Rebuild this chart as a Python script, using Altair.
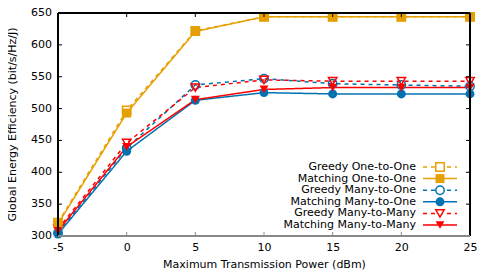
import altair as alt
import pandas as pd

power = [-5, 0, 5, 10, 15, 20, 25]
series_names = [
    "Greedy One-to-One",
    "Matching One-to-One",
    "Greedy Many-to-One",
    "Matching Many-to-One",
    "Greedy  Many-to-Many",
    "Matching Many-to-Many",
]
greedy_o2o = [321, 497, 622, 644, 644, 644, 644]
matching_o2o = [319, 493, 621, 644, 644, 644, 644]
greedy_m2o = [305, 438, 537, 547, 539, 537, 535]
matching_m2o = [303, 433, 513, 525, 523, 523, 523]
greedy_m2m = [311, 446, 533, 545, 543, 543, 543]
matching_m2m = [308, 440, 514, 530, 533, 533, 533]
values = [greedy_o2o, matching_o2o, greedy_m2o, matching_m2o, greedy_m2m, matching_m2m]

colors = ["#E69F00", "#E69F00", "#0072B2", "#0072B2", "#FF0000", "#FF0000"]
shapes = ["square", "square", "circle", "circle", "triangle-down", "triangle-down"]
dashes = [[4, 4], [1, 0], [4, 4], [1, 0], [4, 4], [1, 0]]
filled_flags = [False, True, False, True, False, True]

x_ticks = [-5, 0, 5, 10, 15, 20, 25]
y_ticks = [300, 350, 400, 450, 500, 550, 600, 650]
y_tick_labels = ["300", "350", "400", "450", "500", "550", "600", "650"]
x_title = "Maximum Transmission Power (dBm)"
y_title = "Global Energy Efficiency (bit/s/Hz/J)"

rows = []
for name, vals, f in zip(series_names, values, filled_flags):
    for p, v in zip(power, vals):
        rows.append({"series": name, "power": p, "eff": v, "filled": f})
df = pd.DataFrame(rows)
leg = pd.DataFrame({"series": series_names, "filled": filled_flags})

FONT = "DejaVu Sans"
W, H = 470, 223          # group size (includes y-label area on the left)
L, R = 50, 462           # plot frame left / right inside the group

color_scale = alt.Scale(domain=series_names, range=colors)
shape_scale = alt.Scale(domain=series_names, range=shapes)
dash_scale = alt.Scale(domain=series_names, range=dashes)
xs = alt.Scale(domain=[-5, 25], range=[L, R], nice=False, zero=False)
ys = alt.Scale(domain=[300, 650], nice=False, zero=False)

x_axis = alt.Axis(values=x_ticks, title=x_title, titleX=(L + R) / 2,
                  ticks=False, grid=False, domain=False, labelPadding=5,
                  labelFlush=False, labelOverlap=False, titlePadding=6,
                  labelExpr="'' + datum.value")


def X(field="power"):
    return alt.X(f"{field}:Q", scale=xs, axis=x_axis)


def Y(field="eff"):
    return alt.Y(f"{field}:Q", scale=ys, axis=None)


lines = alt.Chart(df).mark_line(strokeWidth=1.5, clip=True).encode(
    x=X(), y=Y(),
    color=alt.Color("series:N", scale=color_scale, legend=None),
    strokeDash=alt.StrokeDash("series:N", scale=dash_scale, legend=None),
    detail="series:N",
)

pts_open = alt.Chart(df[~df["filled"]]).mark_point(filled=False, size=70, strokeWidth=1.5, opacity=1).encode(
    x=X(), y=Y(),
    color=alt.Color("series:N", scale=color_scale, legend=None),
    shape=alt.Shape("series:N", scale=shape_scale, legend=None),
)
pts_fill = alt.Chart(df[df["filled"]]).mark_point(filled=True, size=80, opacity=1).encode(
    x=X(), y=Y(),
    color=alt.Color("series:N", scale=color_scale, legend=None),
    shape=alt.Shape("series:N", scale=shape_scale, legend=None),
)

# inward ticks on all four sides
xt = pd.DataFrame({"power": x_ticks})
yt = pd.DataFrame({"eff": y_ticks, "lab": y_tick_labels})
tick_bot = alt.Chart(xt).mark_rule(color="#888888", strokeWidth=1).encode(
    x=X(), y=alt.value(H), y2=alt.value(H - 4))
tick_top = alt.Chart(xt).mark_rule(color="black", strokeWidth=1).encode(
    x=X(), y=alt.value(0), y2=alt.value(4))
tick_left = alt.Chart(yt).mark_rule(color="black", strokeWidth=1).encode(
    y=Y(), x=alt.value(L), x2=alt.value(L + 4))
tick_right = alt.Chart(yt).mark_rule(color="black", strokeWidth=1).encode(
    y=Y(), x=alt.value(R), x2=alt.value(R - 4))
ylabels = alt.Chart(yt).mark_text(align="right", baseline="middle", font=FONT, fontSize=11,
                                  color="black").encode(
    y=Y(), x=alt.value(L - 6), text="lab:N")
ytitle = alt.Chart(pd.DataFrame({"t": [y_title]})).mark_text(
    angle=270, align="center", baseline="middle", font=FONT, fontSize=11, color="black").encode(
    x=alt.value(5), y=alt.value(H / 2), text="t:N")

# frame
frame_top = alt.Chart(xt).mark_rule(color="black", strokeWidth=1).encode(
    x=alt.value(L), x2=alt.value(R), y=alt.value(0))
frame_right = alt.Chart(xt).mark_rule(color="black", strokeWidth=1).encode(
    x=alt.value(R), y=alt.value(0), y2=alt.value(H))
frame_left = alt.Chart(xt).mark_rule(color="black", strokeWidth=1).encode(
    x=alt.value(L), y=alt.value(0), y2=alt.value(H))
frame_bot = alt.Chart(xt).mark_rule(color="#888888", strokeWidth=2).encode(
    x=alt.value(L), x2=alt.value(R), y=alt.value(H))

# legend (label on left, sample on right); rows placed by an offset scale
leg_off = alt.YOffset("series:N", scale=alt.Scale(domain=series_names, range=[0, 58], type="point", padding=0))
LEG_TOP = 154
leg_text = alt.Chart(leg).mark_text(align="right", baseline="middle", font=FONT, fontSize=11, color="black").encode(
    y=alt.value(LEG_TOP), yOffset=leg_off, x=alt.value(L + 358), text="series:N")
leg_line = alt.Chart(leg).mark_rule(strokeWidth=1.5).encode(
    y=alt.value(LEG_TOP), yOffset=leg_off, x=alt.value(L + 365), x2=alt.value(L + 399),
    color=alt.Color("series:N", scale=color_scale, legend=None),
    strokeDash=alt.StrokeDash("series:N", scale=dash_scale, legend=None))
leg_open = alt.Chart(leg[~leg["filled"]]).mark_point(filled=True, size=70, strokeWidth=1.5, opacity=1, fill="white").encode(
    y=alt.value(LEG_TOP), yOffset=leg_off, x=alt.value(L + 382),
    stroke=alt.Stroke("series:N", scale=color_scale, legend=None),
    shape=alt.Shape("series:N", scale=shape_scale, legend=None))
leg_fill = alt.Chart(leg[leg["filled"]]).mark_point(filled=True, size=80, opacity=1).encode(
    y=alt.value(LEG_TOP), yOffset=leg_off, x=alt.value(L + 382),
    color=alt.Color("series:N", scale=color_scale, legend=None),
    shape=alt.Shape("series:N", scale=shape_scale, legend=None))

chart = alt.layer(lines, pts_open, pts_fill, tick_bot, tick_top, tick_left, tick_right, ylabels, ytitle,
                  frame_top, frame_right, frame_left, frame_bot,
                  leg_line, leg_open, leg_fill, leg_text).properties(
    width=W, height=H,
    background="white",
    autosize=alt.AutoSizeParams(type="none"),
    padding={"left": 0, "top": 5, "right": 5, "bottom": 37},
).configure_view(stroke=None).configure_axis(
    labelFont=FONT, titleFont=FONT, labelFontSize=11, titleFontSize=11,
    titleFontWeight="normal", labelColor="black", titleColor="black",
)

chart.save("out.html", embed_options={"renderer": "svg", "actions": False})
